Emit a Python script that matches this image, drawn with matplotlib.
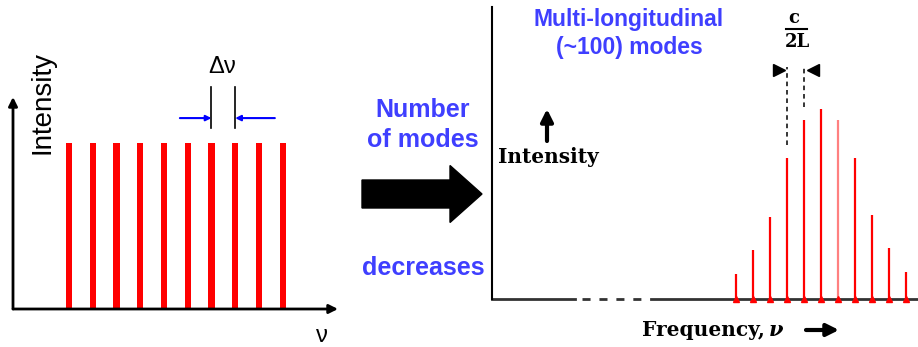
import numpy as np
import matplotlib.pyplot as plt
from matplotlib.patches import FancyArrow

# left panel: equal-height modes
bar_pos = np.arange(1, 11)
bar_height = [1, 1, 1, 1, 1, 1, 1, 1, 1, 1]

# right panel: mode index vs relative intensity
mode_idx = np.arange(-5, 6)
mode_int = [0.13, 0.26, 0.43, 0.74, 0.94, 1.0, 0.94, 0.74, 0.44, 0.27, 0.14]

RED = '#ff0000'
BLUE = '#3f3fff'
W, H = 918, 347

fig = plt.figure(figsize=(9.18, 3.47), dpi=100)

# ---- left panel
ax1 = fig.add_axes([13 / W, 1 - 309 / H, (338 - 13) / W, (309 - 97) / H])
ax1.bar(bar_pos, bar_height, width=0.26, color=RED, zorder=2)
ax1.set_xlim(-1.36, 12.33)
ax1.set_ylim(0, 1.277)
ax1.axis('off')
arr = dict(arrowstyle='-|>', lw=2, color='black', mutation_scale=13, shrinkA=0, shrinkB=0)
ax1.annotate('', xy=(0, 1), xytext=(0, 0), xycoords='axes fraction', arrowprops=arr)
ax1.annotate('', xy=(1, 0), xytext=(0, 0), xycoords='axes fraction', arrowprops=arr)

# delta-nu marker between bars 7 and 8
for b in bar_pos[6:8]:
    ax1.plot([b, b], [1.09, 1.337], color='black', lw=1.2, clip_on=False)
barr = dict(arrowstyle='-|>', lw=1.5, color='blue', mutation_scale=8, shrinkA=0, shrinkB=0)
ax1.annotate('', xy=(bar_pos[6], 1.15), xytext=(bar_pos[6] - 1.33, 1.15), arrowprops=barr, annotation_clip=False)
ax1.annotate('', xy=(bar_pos[7], 1.15), xytext=(bar_pos[7] + 1.67, 1.15), arrowprops=barr, annotation_clip=False)

# ---- right panel
ax2 = fig.add_axes([492 / W, 1 - 299 / H, (918 - 492) / W, (299 - 7) / H])
xmin, xmax = -19.35, 5.7
ax2.set_xlim(xmin, xmax)
ax2.set_ylim(0, 1.537)
for s in ['top', 'right', 'bottom']:
    ax2.spines[s].set_visible(False)
ax2.spines['left'].set_linewidth(1.5)
ax2.set_xticks([])
ax2.set_yticks([])
AX = '#333333'
ax2.plot([xmin, -14.47], [0, 0], color=AX, lw=2, clip_on=False, zorder=1)
ax2.plot([-14.06, -10.47], [0, 0], color=AX, lw=2, dashes=(2.9, 3.2), clip_on=False, zorder=1)
ax2.plot([-10.0, xmax], [0, 0], color=AX, lw=2, clip_on=False, zorder=1)

cols = [RED] * len(mode_idx)
cols[6] = '#ff8080'
ax2.vlines(mode_idx, 0, mode_int, colors=cols, lw=1.6, zorder=2)
ax2.plot(mode_idx, np.zeros(len(mode_idx)), ls='none', marker='^', ms=4, color=RED, zorder=3, clip_on=False)

# c/2L spacing marker
ax2.plot([-2, -2], [0.81, 1.221], 'k--', lw=1.1, dashes=(3, 2.5), clip_on=False)
ax2.plot([-1, -1], [1.01, 1.221], 'k--', lw=1.1, dashes=(3, 2.5), clip_on=False)
ax2.plot(-2.5, 1.205, marker='>', ms=8, color='black', clip_on=False)
ax2.plot(-0.5, 1.205, marker='<', ms=8, color='black', clip_on=False)

# ---- overlay for text and arrows
ax0 = fig.add_axes([0, 0, 1, 1], zorder=5)
ax0.set_xlim(0, W)
ax0.set_ylim(H, 0)
ax0.axis('off')
ax0.patch.set_alpha(0)

ax0.text(42, 102, 'Intensity', rotation=90, ha='center', va='center', fontsize=20, family='Liberation Sans')
ax0.text(222, 67, 'Δν', ha='center', va='center', fontsize=17, family='Liberation Sans')
ax0.text(322, 336, 'ν', ha='center', va='center', fontsize=17, family='Liberation Sans')

bt = dict(ha='center', va='center', color=BLUE, fontweight='bold', family='Liberation Sans')
ax0.text(423, 110, 'Number', fontsize=18, **bt)
ax0.text(423, 140, 'of modes', fontsize=18, **bt)
ax0.text(423, 268, 'decreases', fontsize=18, **bt)
ax0.text(629, 19, 'Multi-longitudinal', fontsize=16.5, **bt)
ax0.text(629, 47, '(~100) modes', fontsize=16.5, **bt)

ax0.add_patch(FancyArrow(362, 194, 120, 0, width=28, head_width=57, head_length=32,
                         length_includes_head=True, color='black'))

st = dict(ha='center', va='center', fontweight='bold', family='DejaVu Serif')
ax0.annotate('', xy=(547, 109), xytext=(547, 141),
             arrowprops=dict(arrowstyle='-|>', lw=3, color='black', mutation_scale=18, shrinkA=0, shrinkB=0))
ax0.text(548, 157, 'Intensity', fontsize=14.5, **st)
ax0.text(703, 330, 'Frequency,', fontsize=14.5, **st)
ax0.text(776, 330, 'ν', fontsize=15, style='italic', **st)
ax0.annotate('', xy=(839, 330), xytext=(806, 330),
             arrowprops=dict(arrowstyle='-|>', lw=3, color='black', mutation_scale=18, shrinkA=0, shrinkB=0))

ax0.text(794, 18, 'c', fontsize=13, **st)
ax0.plot([786, 807], [29, 29], color='black', lw=1.5)
ax0.text(797, 42, '2L', fontsize=13, **st)

fig.savefig('out.png', dpi=100)
